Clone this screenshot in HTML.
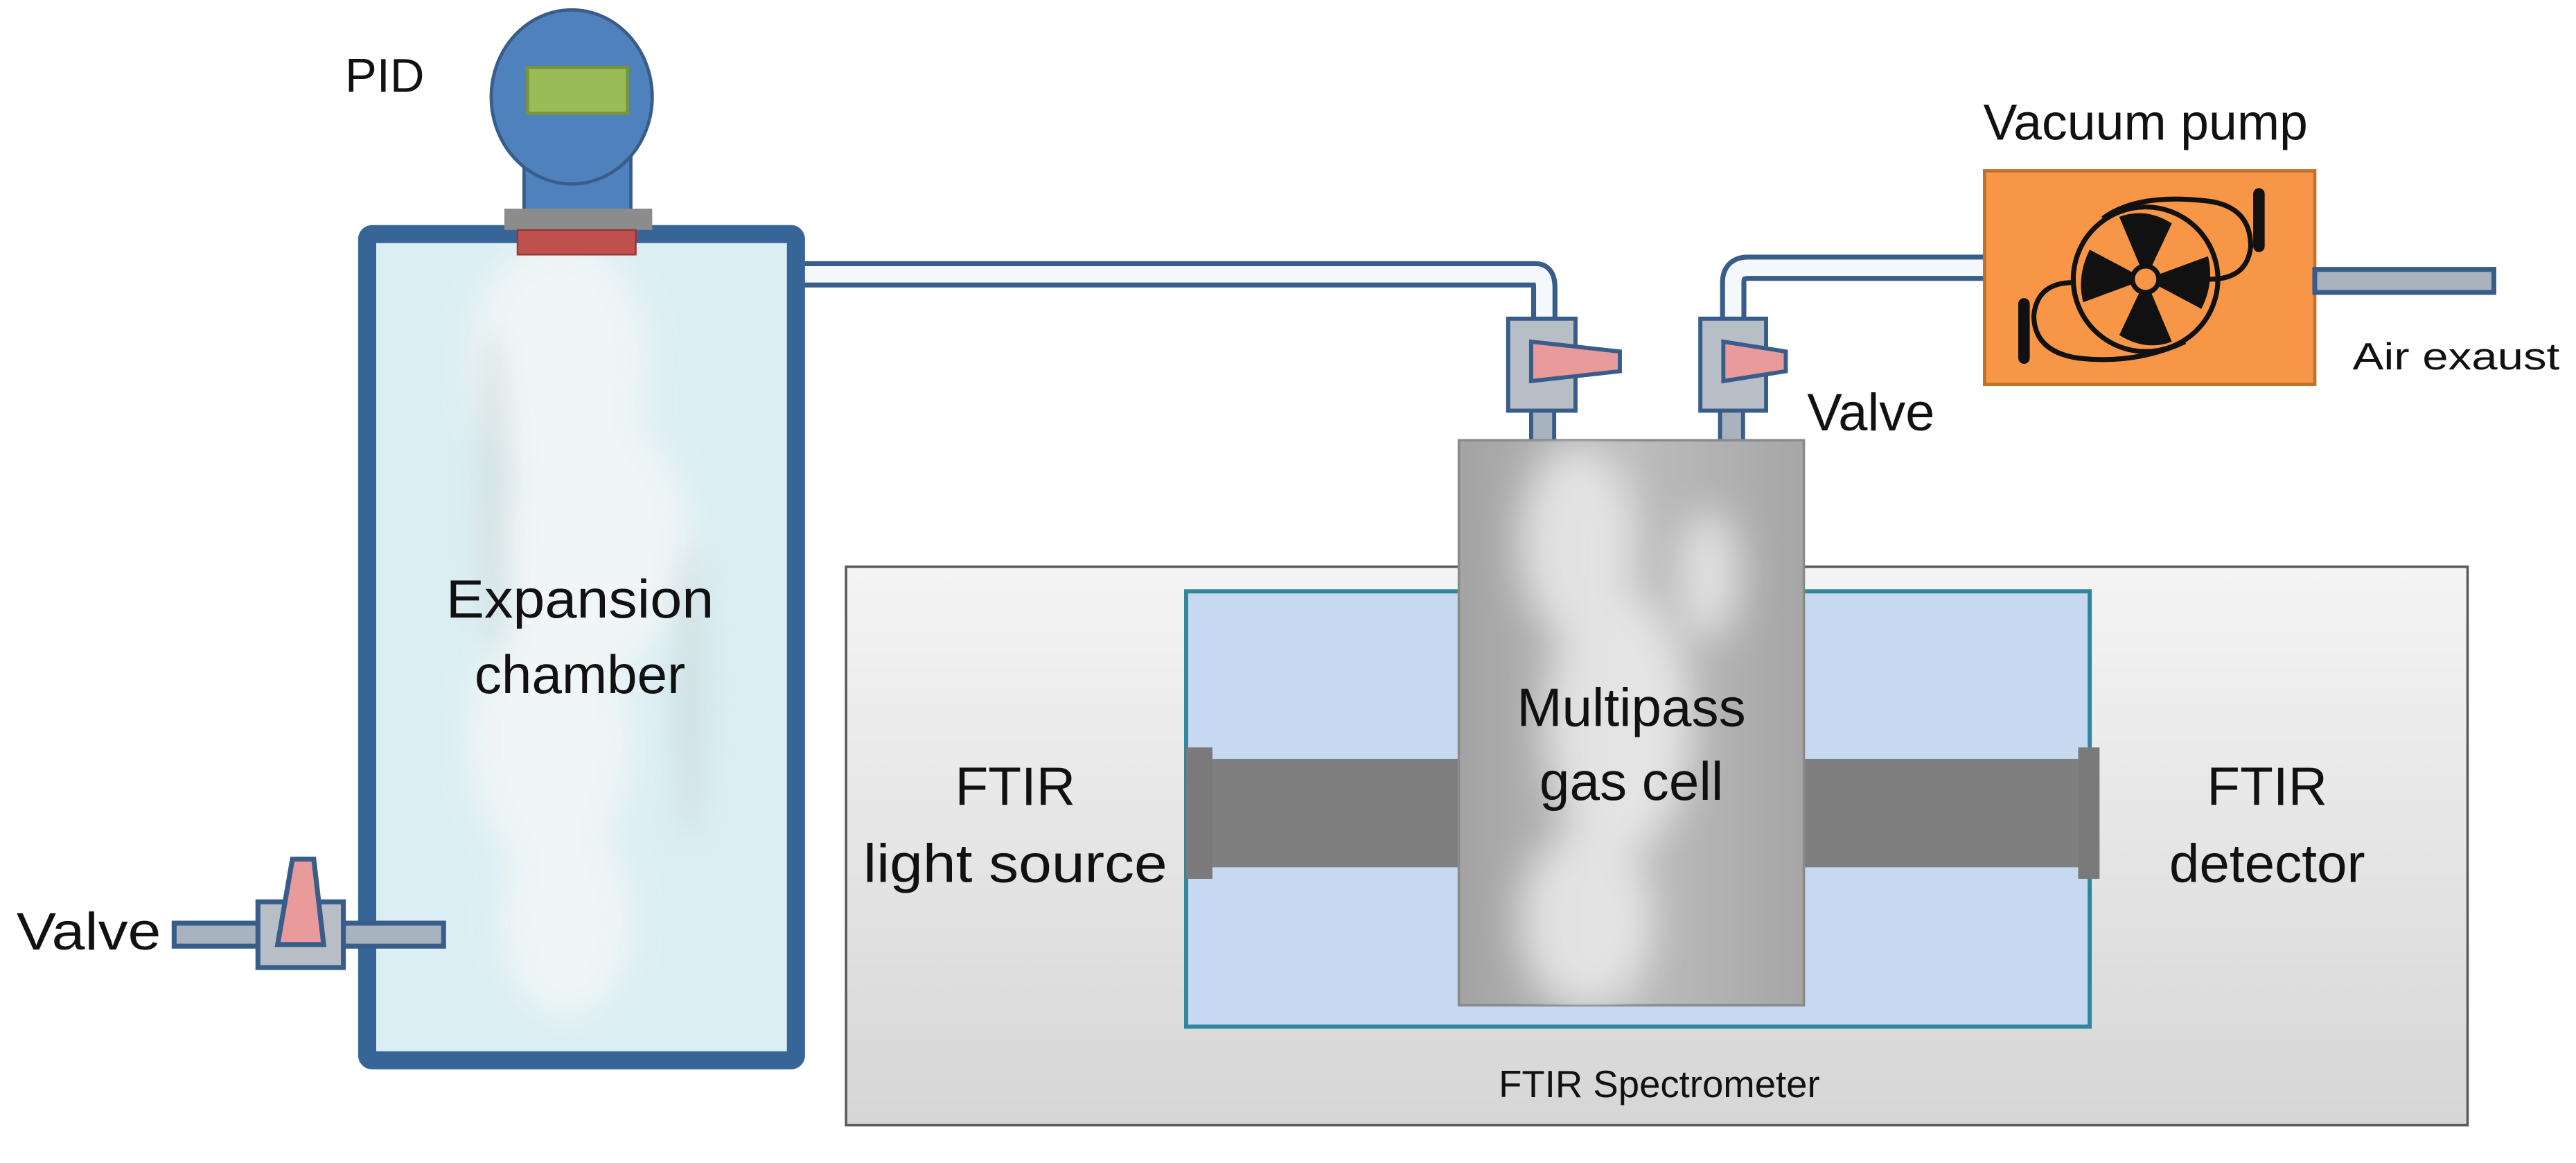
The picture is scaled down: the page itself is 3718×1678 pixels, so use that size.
<!DOCTYPE html>
<html><head><meta charset="utf-8"><style>
html,body{margin:0;padding:0;background:#fff;}
svg{display:block;}
text{font-family:"Liberation Sans",sans-serif;fill:#111;}
</style></head><body>
<svg width="3718" height="1678" viewBox="0 0 1568 708" preserveAspectRatio="none" xmlns="http://www.w3.org/2000/svg">
<defs>
<filter id="blur" x="-50%" y="-50%" width="200%" height="200%"><feGaussianBlur stdDeviation="12"/></filter>
<filter id="blur2" x="-50%" y="-50%" width="200%" height="200%"><feGaussianBlur stdDeviation="8"/></filter>
<linearGradient id="spec" x1="0" y1="0" x2="0" y2="1"><stop offset="0" stop-color="#f4f4f4"/><stop offset="1" stop-color="#d6d6d6"/></linearGradient>
<linearGradient id="cell" x1="0" y1="0" x2="1" y2="0"><stop offset="0" stop-color="#a3a3a3"/><stop offset="0.5" stop-color="#bdbdbd"/><stop offset="1" stop-color="#a6a6a6"/></linearGradient>
<clipPath id="chc"><rect x="229" y="148" width="250" height="492"/></clipPath>
<clipPath id="cec"><rect x="888" y="268" width="210" height="344"/></clipPath>
</defs>

<rect x="515" y="345" width="987" height="340" fill="url(#spec)" stroke="#595959" stroke-width="1.5"/>
<rect x="722" y="360" width="550" height="265" fill="#c6d9f1" stroke="#31859c" stroke-width="2.5"/>
<rect x="722" y="462" width="553" height="66" fill="#7f7f7f"/>
<rect x="722" y="455" width="16" height="80" fill="#7a7a7a"/>
<rect x="1265" y="455" width="13" height="80" fill="#7a7a7a"/>
<text x="1010" y="668" font-size="23" text-anchor="middle">FTIR Spectrometer</text>
<text x="618" y="490" font-size="33" text-anchor="middle">FTIR</text>
<text x="618" y="537" font-size="33" text-anchor="middle" textLength="185" lengthAdjust="spacingAndGlyphs">light source</text>
<text x="1380" y="490" font-size="33" text-anchor="middle">FTIR</text>
<text x="1380" y="537" font-size="33" text-anchor="middle">detector</text>

<path d="M488 167 H935 Q940 167 940 175 V200" fill="none" stroke="#385d8a" stroke-width="16"/>
<path d="M488 167 H935 Q940 167 940 175 V200" fill="none" stroke="#f4f8fc" stroke-width="10"/>
<path d="M1055 200 V172 Q1055 163 1064 163 H1210" fill="none" stroke="#385d8a" stroke-width="16"/>
<path d="M1055 200 V172 Q1055 163 1064 163 H1210" fill="none" stroke="#f4f8fc" stroke-width="10"/>
<rect x="932" y="245" width="14" height="28" fill="#a9b3bd" stroke="#385d8a" stroke-width="2.5"/>
<rect x="1047" y="245" width="14" height="28" fill="#a9b3bd" stroke="#385d8a" stroke-width="2.5"/>

<g stroke="#385d8a" stroke-width="2.5">
<rect x="918" y="194" width="41" height="56" fill="#b8bec6"/>
<polygon points="932,208 986,214 986,226 932,232" fill="#e99a9a"/>
<rect x="1035" y="194" width="40" height="56" fill="#b8bec6"/>
<polygon points="1049,208 1087,214 1087,226 1049,232" fill="#e99a9a"/>
</g>
<text x="1100" y="262" font-size="32">Valve</text>

<rect x="888" y="268" width="210" height="344" fill="url(#cell)" stroke="#8a8a8a" stroke-width="1.5"/>
<g clip-path="url(#cec)" filter="url(#blur)" fill="#f2f2f2" opacity="0.75">
<ellipse cx="960" cy="330" rx="35" ry="60"/>
<ellipse cx="985" cy="440" rx="45" ry="80"/>
<ellipse cx="965" cy="560" rx="40" ry="55"/>
<ellipse cx="1040" cy="350" rx="18" ry="40"/>
</g>
<text x="993" y="442" font-size="33" text-anchor="middle">Multipass</text>
<text x="993" y="487" font-size="33" text-anchor="middle">gas cell</text>

<rect x="1208" y="104" width="201" height="130" fill="#f79646" stroke="#c0702a" stroke-width="2"/>
<rect x="1409" y="164" width="109" height="14" fill="#a9b3bd" stroke="#385d8a" stroke-width="3"/>
<g fill="none" stroke="#111" stroke-width="3">
<circle cx="1306" cy="170" r="44"/>
<path d="M1280 133 Q1300 118 1340 122 Q1370 124 1370 150 Q1368 170 1345 170"/>
<path d="M1330 208 Q1300 222 1265 218 Q1238 214 1238 192 Q1240 172 1262 172"/>
</g>
<line x1="1375" y1="118" x2="1375" y2="150" stroke="#111" stroke-width="7" stroke-linecap="round"/>
<line x1="1232" y1="185" x2="1232" y2="218" stroke="#111" stroke-width="7" stroke-linecap="round"/>
<g fill="#111">
<path d="M1306 170 L1290 132 Q1306 126 1322 136 Z"/>
<path d="M1306 170 L1344 156 Q1348 172 1340 188 Z"/>
<path d="M1306 170 L1322 208 Q1306 214 1290 204 Z"/>
<path d="M1306 170 L1268 184 Q1264 168 1272 152 Z"/>
</g>
<circle cx="1306" cy="170" r="8" fill="#f79646" stroke="#111" stroke-width="3"/>
<text x="1306" y="85" font-size="31" text-anchor="middle">Vacuum pump</text>
<text x="1432" y="225" font-size="23" textLength="126" lengthAdjust="spacingAndGlyphs">Air exaust</text>

<rect x="223.5" y="142.5" width="261" height="503" fill="#daeef3" stroke="#386597" stroke-width="11" rx="3"/>
<g clip-path="url(#chc)" filter="url(#blur)" fill="#f3f6f6" opacity="0.9">
<ellipse cx="340" cy="220" rx="55" ry="75"/>
<ellipse cx="360" cy="330" rx="60" ry="80"/>
<ellipse cx="335" cy="450" rx="50" ry="80"/>
<ellipse cx="345" cy="560" rx="40" ry="60"/>
</g>
<g clip-path="url(#chc)" filter="url(#blur2)" fill="#c9d6d6" opacity="0.5">
<ellipse cx="300" cy="300" rx="10" ry="100"/>
<ellipse cx="420" cy="420" rx="10" ry="90"/>
</g>
<text x="353" y="376" font-size="33" text-anchor="middle" textLength="163" lengthAdjust="spacingAndGlyphs">Expansion</text>
<text x="353" y="422" font-size="33" text-anchor="middle">chamber</text>

<rect x="319" y="95" width="65" height="36" fill="#4f81bd" stroke="#385d8a" stroke-width="2"/>
<ellipse cx="348" cy="59" rx="49" ry="53" fill="#4f81bd" stroke="#385d8a" stroke-width="2"/>
<rect x="321" y="41" width="61" height="28" fill="#9bbb59" stroke="#77933c" stroke-width="2"/>
<rect x="307" y="127" width="90" height="13" fill="#8c8c8c"/>
<rect x="315" y="140" width="72" height="15" fill="#c0504d" stroke="#943634" stroke-width="1"/>
<text x="210" y="56" font-size="29">PID</text>

<rect x="106" y="562" width="164" height="14" fill="#a9b3bd" stroke="#385d8a" stroke-width="3"/>
<rect x="157" y="549" width="52" height="40" fill="#b8bec6" stroke="#385d8a" stroke-width="3"/>
<polygon points="178,523 191,523 197,575 169,575" fill="#e99a9a" stroke="#385d8a" stroke-width="3"/>
<text x="10" y="578" font-size="32" textLength="88" lengthAdjust="spacingAndGlyphs">Valve</text>
</svg>
</body></html>
